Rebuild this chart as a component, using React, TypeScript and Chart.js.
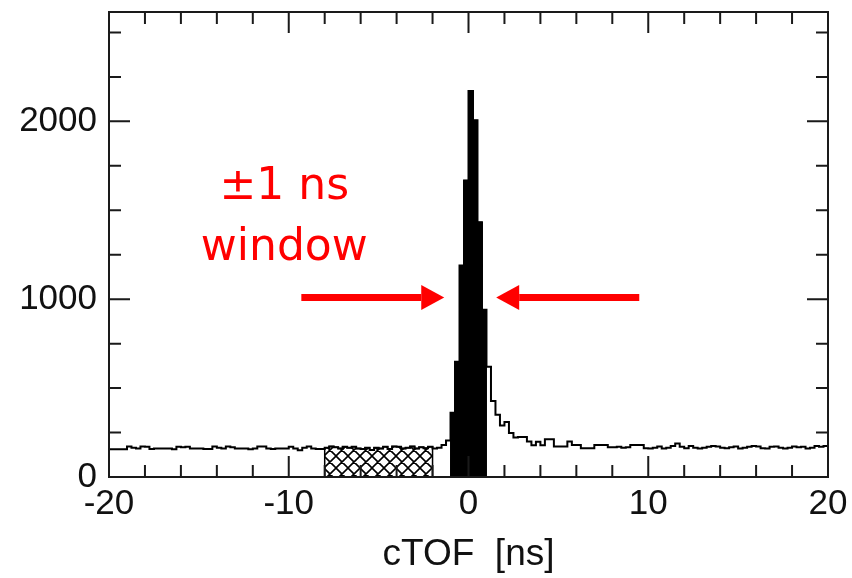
import React, { useEffect, useRef } from "react";
import { Chart, registerables } from "chart.js";

Chart.register(...registerables);

// Histogram definition: 160 bins of 0.25 ns from -20 ns to +20 ns
const BIN_START = -20;
const BIN_WIDTH = 0.25;

// counts, bins from -20 ns to -8 ns
const leftBackground = [
  156, 156, 156, 156, 172, 165, 160, 172, 170, 158, 160, 160,
  160, 160, 156, 170, 168, 170, 160, 160, 160, 158, 158, 172,
  165, 160, 172, 168, 160, 160, 160, 156, 160, 172, 172, 160,
  158, 160, 160, 160, 170, 160, 150, 165, 172, 160, 158, 158,
];
// counts, hatched side-band -8 ns to -2 ns
const hatchedCounts = [
  165, 172, 168, 160, 170, 165, 170, 160, 158, 165, 152, 165,
  160, 170, 158, 172, 170, 160, 165, 172, 160, 168, 162, 170,
];
// counts, -2 ns to -1 ns
const preWindowCounts = [160, 165, 180, 205];
// counts inside the ±1 ns window (filled black)
const peakCounts = [362, 648, 1189, 1668, 2171, 2006, 1433, 941];
// counts, +1 ns to +20 ns
const tailCounts = [
  620, 428, 350, 290, 310, 248, 222, 225, 225, 200, 178, 198,
  178, 212, 212, 171, 171, 171, 199, 180, 180, 161, 161, 161,
  180, 180, 180, 167, 167, 170, 165, 167, 180, 180, 180, 161,
  160, 165, 172, 160, 165, 175, 188, 170, 162, 175, 165, 160,
  165, 170, 175, 172, 165, 162, 168, 172, 160, 165, 170, 175,
  172, 162, 160, 170, 172, 165, 160, 165, 172, 168, 170, 160,
  165, 175, 170, 175,
];

const xTickLabels = [-20, -10, 0, 10, 20];
const yTickLabels = [0, 1000, 2000];
const xMinorTicks = [-18, -16, -14, -12, -8, -6, -4, -2, 2, 4, 6, 8, 12, 14, 16, 18];
const yMinorTicks = [250, 500, 750, 1250, 1500, 1750, 2250, 2500];
const X_MIN = -20;
const X_MAX = 20;
const Y_MAX = 2615;

const annotationLines = ["±1 ns", "window"];
const annotationX = -10.25;
const annotationY = [1565, 1222];
const arrowLevel = 1010;
const arrowTails = [-9.3, 9.5];
const arrowTips = [-1.35, 1.54];

const allCounts = [
  ...leftBackground,
  ...hatchedCounts,
  ...preWindowCounts,
  ...peakCounts,
  ...tailCounts,
];

const outlinePoints = [
  ...allCounts.map((v, k) => ({ x: BIN_START + k * BIN_WIDTH, y: v })),
  { x: BIN_START + allCounts.length * BIN_WIDTH, y: allCounts[allCounts.length - 1] },
];

function segment(counts: number[], startIdx: number) {
  const x0 = BIN_START + startIdx * BIN_WIDTH;
  const x1 = x0 + counts.length * BIN_WIDTH;
  return [
    { x: x0, y: 0 },
    ...counts.map((v, i) => ({ x: x0 + i * BIN_WIDTH, y: v })),
    { x: x1, y: counts[counts.length - 1] },
    { x: x1, y: 0 },
  ];
}

const hatchStart = leftBackground.length;
const peakStart = leftBackground.length + hatchedCounts.length + preWindowCounts.length;

function makeHatch(): CanvasPattern | string {
  const pc = document.createElement("canvas");
  pc.width = 12;
  pc.height = 12;
  const g = pc.getContext("2d");
  if (!g) return "#888";
  g.strokeStyle = "#000";
  g.lineWidth = 1.6;
  g.beginPath();
  for (const o of [-12, 0, 12]) {
    g.moveTo(o, 0);
    g.lineTo(o + 12, 12);
    g.moveTo(o + 12, 0);
    g.lineTo(o, 12);
  }
  g.stroke();
  const p = g.createPattern(pc, "repeat");
  return p || "#888";
}

const framePlugin = {
  id: "frameTicks",
  afterDatasetsDraw(chart: any) {
    const { ctx, chartArea } = chart;
    const { left, right, top, bottom } = chartArea;
    const xs = chart.scales.x;
    const ys = chart.scales.y;
    ctx.save();
    ctx.strokeStyle = "#1a1a1a";
    ctx.lineWidth = 2;
    ctx.beginPath();
    const xt = (v: number, len: number) => {
      const px = xs.getPixelForValue(v);
      ctx.moveTo(px, bottom);
      ctx.lineTo(px, bottom - len);
      ctx.moveTo(px, top);
      ctx.lineTo(px, top + len);
    };
    const yt = (v: number, len: number) => {
      const py = ys.getPixelForValue(v);
      ctx.moveTo(left, py);
      ctx.lineTo(left + len, py);
      ctx.moveTo(right, py);
      ctx.lineTo(right - len, py);
    };
    xMinorTicks.forEach((v) => xt(v, 12));
    xTickLabels.forEach((v) => xt(v, 21));
    yMinorTicks.forEach((v) => yt(v, 12));
    yTickLabels.forEach((v) => yt(v, 21));
    ctx.stroke();
    ctx.strokeRect(left, top, right - left, bottom - top);
    ctx.restore();
  },
  afterDraw(chart: any) {
    const { ctx } = chart;
    const xs = chart.scales.x;
    const ys = chart.scales.y;
    ctx.save();
    ctx.fillStyle = "#ff0000";
    ctx.strokeStyle = "#ff0000";
    ctx.font = '44px "DejaVu Sans", sans-serif';
    ctx.textAlign = "center";
    ctx.textBaseline = "alphabetic";
    annotationLines.forEach((t, i) => {
      ctx.fillText(t, xs.getPixelForValue(annotationX), ys.getPixelForValue(annotationY[i]));
    });
    const py = ys.getPixelForValue(arrowLevel);
    arrowTails.forEach((tail, i) => {
      const tx = xs.getPixelForValue(tail);
      const hx = xs.getPixelForValue(arrowTips[i]);
      const dir = hx > tx ? 1 : -1;
      const headLen = 23;
      const headHalf = 12.5;
      ctx.lineWidth = 7;
      ctx.beginPath();
      ctx.moveTo(tx, py);
      ctx.lineTo(hx - dir * headLen, py);
      ctx.stroke();
      ctx.beginPath();
      ctx.moveTo(hx, py);
      ctx.lineTo(hx - dir * headLen, py - headHalf);
      ctx.lineTo(hx - dir * headLen, py + headHalf);
      ctx.closePath();
      ctx.fill();
    });
    ctx.restore();
  },
};

const tickFont = { family: '"Liberation Sans", Arial, Helvetica, sans-serif', size: 35 };
const titleFont = { family: '"Liberation Sans", Arial, Helvetica, sans-serif', size: 37 };

export default function App() {
  const ref = useRef<HTMLCanvasElement>(null);
  useEffect(() => {
    if (!ref.current) return;
    const chart = new Chart(ref.current, {
      type: "line",
      data: {
        datasets: [
          {
            label: "all",
            data: outlinePoints,
            stepped: true,
            borderColor: "#000",
            borderWidth: 2,
            pointRadius: 0,
            fill: false,
            order: 0,
          },
          {
            label: "window",
            data: segment(peakCounts, peakStart),
            stepped: true,
            borderColor: "#000",
            borderWidth: 1,
            backgroundColor: "#000",
            pointRadius: 0,
            fill: "origin",
            order: 1,
          },
          {
            label: "sideband",
            data: segment(hatchedCounts, hatchStart),
            stepped: true,
            borderColor: "#000",
            borderWidth: 1.5,
            backgroundColor: makeHatch() as any,
            pointRadius: 0,
            fill: "origin",
            order: 2,
          },
        ] as any,
      },
      options: {
        animation: false,
        responsive: false,
        devicePixelRatio: 1,
        layout: { padding: { top: 12, right: 24, bottom: 0, left: 0 } },
        plugins: {
          legend: { display: false },
          tooltip: { enabled: false },
        },
        scales: {
          x: {
            type: "linear",
            min: X_MIN,
            max: X_MAX,
            grid: { display: false, drawTicks: false },
            border: { display: false },
            afterBuildTicks: (s: any) => {
              s.ticks = xTickLabels.map((v) => ({ value: v }));
            },
            afterFit: (s: any) => {
              s.height = 101;
              s.paddingLeft = 0;
              s.paddingRight = 0;
            },
            ticks: {
              font: tickFont,
              color: "#111",
              padding: 6,
              maxRotation: 0,
              autoSkip: false,
              callback: (v: any) => String(v),
            },
            title: {
              display: true,
              text: "cTOF  [ns]",
              font: titleFont,
              color: "#111",
              padding: { top: 0, bottom: 1 },
            },
          },
          y: {
            type: "linear",
            min: 0,
            max: Y_MAX,
            grid: { display: false, drawTicks: false },
            border: { display: false },
            afterBuildTicks: (s: any) => {
              s.ticks = yTickLabels.map((v) => ({ value: v }));
            },
            afterFit: (s: any) => {
              s.width = 109;
              s.paddingTop = 0;
              s.paddingBottom = 0;
            },
            ticks: {
              font: tickFont,
              color: "#111",
              padding: 12,
              autoSkip: false,
              callback: (v: any) => String(v),
            },
          },
        },
      },
      plugins: [framePlugin],
    } as any);
    return () => chart.destroy();
  }, []);
  return (
    <div style={{ position: "absolute", left: 0, top: 0, width: 852, height: 578, background: "#fff" }}>
      <canvas ref={ref} width={852} height={578} />
    </div>
  );
}
